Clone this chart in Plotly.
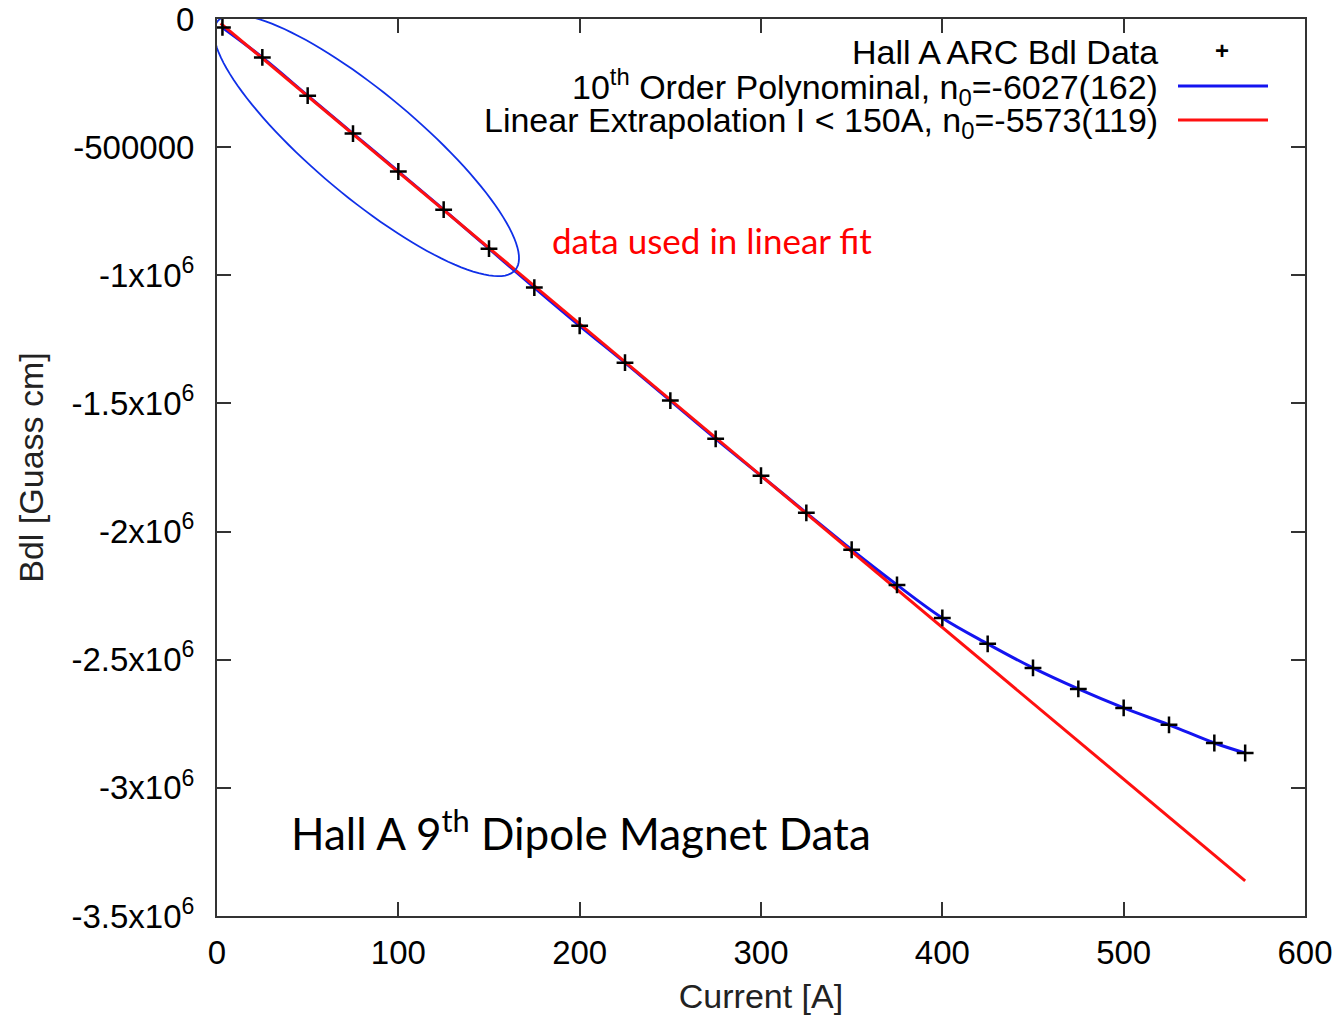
import numpy as np
import plotly.graph_objects as go

# ---- data ----
current = [3, 25, 50, 75, 100, 125, 150, 175, 200, 225, 250, 275, 300, 325,
           350, 375, 400, 425, 450, 475, 500, 525, 550, 567]
bdl = [-33e3, -150e3, -299e3, -447e3, -595e3, -744e3, -896e3, -1048e3,
       -1197e3, -1341e3, -1489e3, -1638e3, -1782e3, -1927e3, -2071e3,
       -2208e3, -2337e3, -2438e3, -2532e3, -2614e3, -2688e3, -2754e3,
       -2825e3, -2864e3]
linear_x = [2, 567]
linear_y = [-17e3, -3.363e6]

x_ticks = [0, 100, 200, 300, 400, 500, 600]
y_ticks = [0, -0.5e6, -1e6, -1.5e6, -2e6, -2.5e6, -3e6, -3.5e6]
y_ticktext = ["0", "-500000", "-1x10<sup>6</sup>", "-1.5x10<sup>6</sup>",
              "-2x10<sup>6</sup>", "-2.5x10<sup>6</sup>", "-3x10<sup>6</sup>",
              "-3.5x10<sup>6</sup>"]

legend_labels = ["Hall A ARC Bdl Data",
                 "10<sup>th</sup> Order Polynominal, n<sub>0</sub>=-6027(162)",
                 "Linear Extrapolation I < 150A, n<sub>0</sub>=-5573(119)"]

# ---- layout geometry (page body has an 8px margin) ----
BODY = 8
W, H = 1341 - 2 * BODY, 1023 - 2 * BODY
PL, PT, PR, PB = 217, 19, 1305, 916          # plot box in window pixels
ML, MT = PL - BODY, PT - BODY
MR, MB = (BODY + W) - PR, (BODY + H) - PB
PW, PH = PR - PL, PB - PT
XR = [0, 600]
YR = [-3.5e6, 0]
ppx = PW / (XR[1] - XR[0])
ppy = PH / (YR[1] - YR[0])

GN_FONT = "Liberation Sans, Arial, sans-serif"
CAL_FONT = "Lato, Open Sans, sans-serif"
AXC = "#333333"
BLUE = "#1414f0"
RED = "#ff1010"

fig = go.Figure()
fig.add_trace(go.Scatter(x=current, y=bdl, mode="lines",
                         line=dict(color=BLUE, width=3, shape="spline"),
                         showlegend=False, hoverinfo="skip"))
fig.add_trace(go.Scatter(x=linear_x, y=linear_y, mode="lines",
                         line=dict(color=RED, width=3),
                         showlegend=False, hoverinfo="skip"))
fig.add_trace(go.Scatter(x=current, y=bdl, mode="markers",
                         marker=dict(symbol="cross-thin", size=12,
                                     line=dict(color="black", width=2.5)),
                         showlegend=False))

# ellipse (annotation) defined in window-pixel geometry, converted to data units
cxp, cyp, a, b, th = 366.5, 145.5, 194, 52, np.deg2rad(39.9)
cx = XR[0] + (cxp - PL) / ppx
cy = YR[1] - (cyp - PT) / ppy
t = np.linspace(0, 2 * np.pi, 121)
dxp = a * np.cos(t) * np.cos(th) - b * np.sin(t) * np.sin(th)
dyp = a * np.cos(t) * np.sin(th) + b * np.sin(t) * np.cos(th)
ex = cx + dxp / ppx
ey = cy - dyp / ppy
path = "M " + " L ".join(f"{xx:.4f},{yy:.2f}" for xx, yy in zip(ex, ey)) + " Z"
fig.add_shape(type="path", path=path, xref="x", yref="y",
              line=dict(color="#1030e8", width=1.8), layer="above")


def px2paper(px, py):
    return (px - PL) / PW, 1 - (py - PT) / PH


# legend (gnuplot style: text then key)
rows_y = [52, 87, 122]
for lab, ry in zip(legend_labels, rows_y):
    xp, yp = px2paper(1160, ry)
    fig.add_annotation(x=xp, y=yp, xref="paper", yref="paper", text=lab,
                       showarrow=False, xanchor="right", yanchor="middle",
                       font=dict(family=GN_FONT, size=34, color="black"))
xp, yp = px2paper(1222, 50)
fig.add_annotation(x=xp, y=yp, xref="paper", yref="paper", text="<b>+</b>",
                   showarrow=False, xanchor="center", yanchor="middle",
                   font=dict(family=GN_FONT, size=24, color="black"))
for ry, col in [(86, BLUE), (120, RED)]:
    x0, y0 = px2paper(1178, ry)
    x1, _ = px2paper(1268, ry)
    fig.add_shape(type="line", xref="paper", yref="paper", x0=x0, x1=x1,
                  y0=y0, y1=y0, line=dict(color=col, width=3))

xp, yp = px2paper(550, 240)
fig.add_annotation(x=xp, y=yp, xref="paper", yref="paper",
                   text="data used in linear fit", showarrow=False,
                   xanchor="left", yanchor="middle",
                   font=dict(family=CAL_FONT, size=35, color="#ff0000"))
xp, yp = px2paper(289, 830)
fig.add_annotation(x=xp, y=yp, xref="paper", yref="paper",
                   text="Hall A 9<sup>th</sup> Dipole Magnet Data",
                   showarrow=False, xanchor="left", yanchor="middle",
                   font=dict(family=CAL_FONT, size=44, color="black"))

axis_common = dict(showgrid=False, zeroline=False, showline=True,
                   linecolor=AXC, linewidth=2, mirror="ticks", ticks="inside",
                   ticklen=14, tickwidth=1.5, tickcolor=AXC, automargin=False,
                   ticklabeloverflow="allow",
                   tickfont=dict(family=GN_FONT, size=33, color="black"))
fig.update_xaxes(range=XR, tickvals=x_ticks, ticktext=[str(v) for v in x_ticks],
                 ticklabelstandoff=6,
                 title=dict(text="Current [A]", standoff=28,
                            font=dict(family=GN_FONT, size=34, color="#222")),
                 **axis_common)
fig.update_yaxes(range=YR, tickvals=y_ticks, ticktext=y_ticktext,
                 ticklabelstandoff=14,
                 title=dict(text="Bdl [Guass cm]", standoff=18,
                            font=dict(family=GN_FONT, size=34, color="#222")),
                 **axis_common)
fig.update_layout(width=W, height=H, autosize=False,
                  margin=dict(l=ML, r=MR, t=MT, b=MB, autoexpand=False),
                  paper_bgcolor="white", plot_bgcolor="white",
                  showlegend=False)
fig.write_html("out.html")
